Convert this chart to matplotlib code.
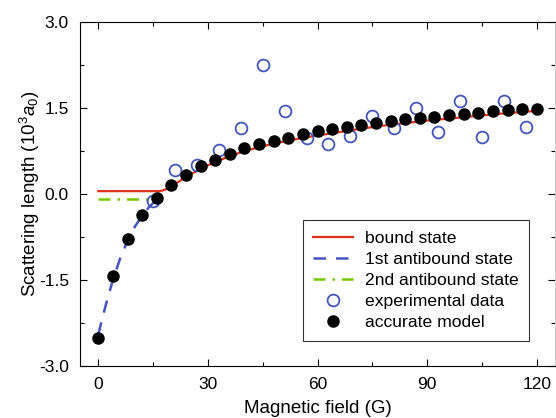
import matplotlib
matplotlib.use("Agg")
import matplotlib.pyplot as plt
import matplotlib.ticker as ticker

plt.rcParams['font.family'] = ['Liberation Sans', 'DejaVu Sans']
plt.rcParams['mathtext.fontset'] = 'custom'
plt.rcParams['mathtext.rm'] = 'Liberation Sans'
plt.rcParams['mathtext.it'] = 'Liberation Sans:italic'

# accurate model (filled dots)
model_B = [0, 4, 8, 12, 16, 20, 24, 28, 32, 36, 40, 44, 48, 52, 56, 60,
           64, 68, 72, 76, 80, 84, 88, 92, 96, 100, 104, 108, 112, 116, 120]
model_a = [-2.51, -1.43, -0.79, -0.37, -0.075, 0.16, 0.34, 0.49, 0.60, 0.70,
           0.80, 0.87, 0.93, 0.98, 1.04, 1.10, 1.13, 1.17, 1.21, 1.24,
           1.27, 1.30, 1.33, 1.35, 1.37, 1.40, 1.41, 1.44, 1.46, 1.48, 1.49]

# experimental data (open circles)
exp_B = [15, 21, 27, 33, 39, 45, 51, 57, 63, 69, 75, 81, 87, 93, 99, 105, 111, 117]
exp_a = [-0.12, 0.42, 0.51, 0.76, 1.15, 2.25, 1.45, 0.97, 0.87, 1.01, 1.36,
         1.15, 1.50, 1.09, 1.63, 1.00, 1.63, 1.16]

# bound state curve
bound_B = [0, 17, 18, 20, 24, 28, 32, 36, 40, 48, 56, 64, 72, 80, 90, 100, 110, 120]
bound_a = [0.05, 0.05, 0.07, 0.13, 0.30, 0.44, 0.56, 0.66, 0.75, 0.88, 0.98,
           1.06, 1.14, 1.21, 1.28, 1.34, 1.40, 1.45]

# 1st antibound state
anti1_B = [0, 2, 4, 6, 8, 10, 12, 14, 16]
anti1_a = [-2.45, -1.95, -1.5, -1.12, -0.82, -0.57, -0.38, -0.22, -0.10]

# 2nd antibound state
anti2_B = [0, 15]
anti2_a = [-0.09, -0.09]

xticks = [0, 30, 60, 90, 120]
yticks = [-3.0, -1.5, 0.0, 1.5, 3.0]
ytick_labels = ['-3.0', '-1.5', '0.0', '1.5', '3.0']

fig = plt.figure(figsize=(5.56, 4.18), dpi=100)
ax = fig.add_axes([80/556, 52/418, 475/556, 344/418])

ax.plot(bound_B, bound_a, color='#e0321e', lw=1.6, label='bound state', zorder=2)
ax.plot(anti1_B, anti1_a, color='#4455c0', lw=1.8, dashes=(5, 4), label='1st antibound state', zorder=2)
ax.plot(anti2_B, anti2_a, color='#77c800', lw=1.8, dashes=(4.8, 2.8, 1, 2.8), label='2nd antibound state', zorder=2)
ax.plot(exp_B, exp_a, 'o', mfc='none', mec='#4455bb', mew=1.3, ms=8.5,
        label='experimental data', zorder=3)
ax.plot(model_B, model_a, 'o', color='black', ms=8, label='accurate model', zorder=4)

ax.set_xlim(-5, 125)
ax.set_ylim(-3, 3)
ax.xaxis.set_major_locator(ticker.FixedLocator(xticks))
ax.xaxis.set_minor_locator(ticker.MultipleLocator(15))
ax.set_yticks(yticks)
ax.set_yticklabels(ytick_labels)
ax.yaxis.set_minor_locator(ticker.MultipleLocator(0.75))
ax.tick_params(which='both', direction='in', top=True, right=True, labelsize=12.5)
ax.tick_params(which='major', length=5, width=0.8)
ax.tick_params(which='minor', length=3, width=0.8)
ax.tick_params(axis='x', pad=8)
ax.tick_params(axis='y', pad=8)
ax.spines['right'].set_color('#cccccc')

ax.set_xlabel('Magnetic field (G)', fontsize=13.5, labelpad=6)
ax.set_ylabel(r'Scattering length (10$^3$$\mathit{a}_0$)', fontsize=13.5, labelpad=-2)

leg = ax.legend(loc='lower right', fontsize=12.6, frameon=True, fancybox=False,
                edgecolor='black', labelspacing=0.33, handlelength=2.3,
                handletextpad=0.65, borderpad=0.6, borderaxespad=0)
leg.get_frame().set_linewidth(0.8)
leg.set_bbox_to_anchor(((529 - 80)/475, (366 - 340.7)/344), transform=ax.transAxes)

fig.savefig('out.png', dpi=100)
